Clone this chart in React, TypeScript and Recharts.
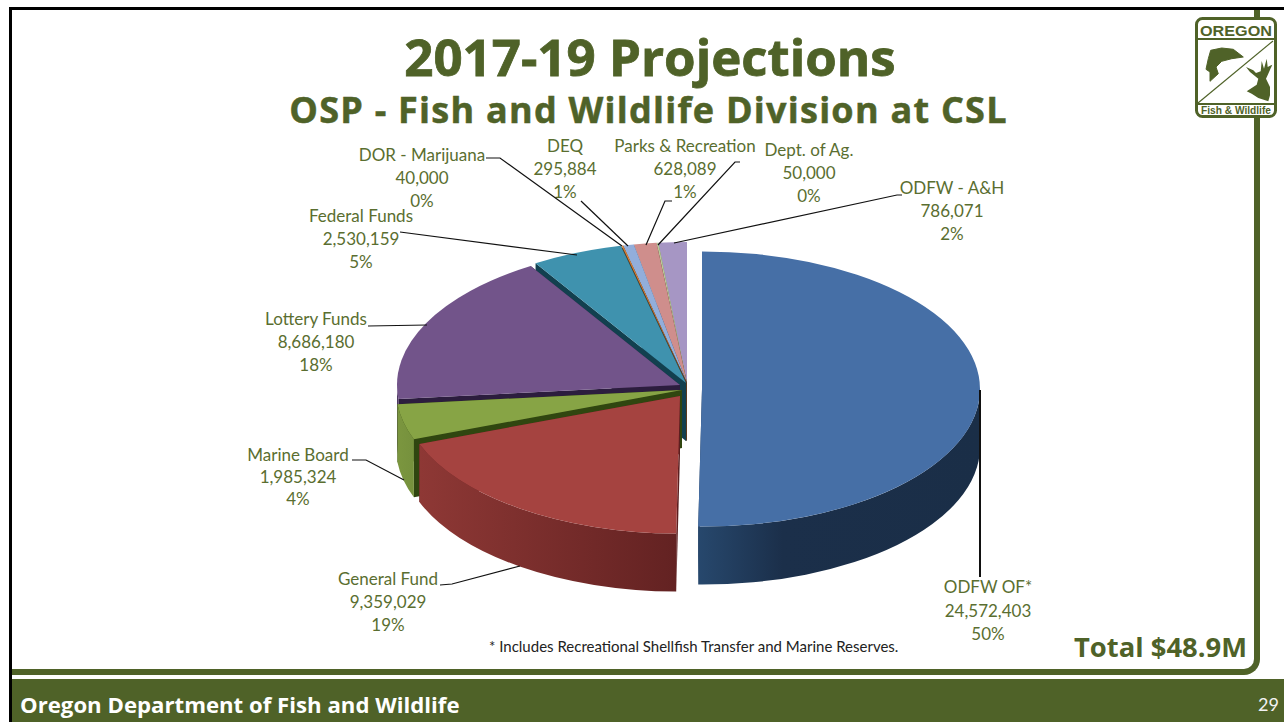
import { PieChart, Pie } from 'recharts'

// listed counter-clockwise from 12 o'clock, so back slices paint first
const names = ['ODFW - A&H', 'Dept. of Ag.', 'Parks & Recreation', 'DEQ', 'DOR - Marijuana', 'Federal Funds', 'Lottery Funds', 'Marine Board', 'General Fund', 'ODFW OF*']
const values = [786071, 50000, 628089, 295884, 40000, 2530159, 8686180, 1985324, 9359029, 24572403]
const fills = ['#a696c4', '#b9c99a', '#cf8e8c', '#92aedb', '#d9833a', '#3f92ae', '#72548a', '#87a445', '#a54340', '#466fa6']

const pieData = names.map((name, i) => ({ name, value: values[i], fill: fills[i] }))

const GREEN = '#4f6228'
const TEXT = '#5a6e30'
const CX = 683
const CY = 385
const RX = 285
const RATIO = 0.495
const DEPTH = 58

// explosion offset, cut face colour, outer wall gradient
const LOOK: Record<string, { dx: number; dy: number; rx?: number; cut: string; wall: string[] }> = {
  'ODFW - A&H': { dx: 4, dy: -2, cut: '#5f5378', wall: ['#5f5378', '#5f5378'] },
  'Dept. of Ag.': { dx: 4, dy: -2, cut: '#5f6e45', wall: ['#5f6e45', '#5f6e45'] },
  'Parks & Recreation': { dx: 4, dy: -2, cut: '#7c4a49', wall: ['#7c4a49', '#7c4a49'] },
  DEQ: { dx: 4, dy: -2, cut: '#4f6788', wall: ['#4f6788', '#4f6788'] },
  'DOR - Marijuana': { dx: 4, dy: -2, cut: '#5b3a1e', wall: ['#5b3a1e', '#5b3a1e'] },
  'Federal Funds': { dx: 3, dy: -2, cut: '#12404f', wall: ['#12404f', '#12404f'] },
  'Lottery Funds': { dx: -3, dy: 0, rx: 283, cut: '#2c1d3e', wall: ['#4e3862', '#4e3862'] },
  'Marine Board': { dx: -1, dy: 5, rx: 286, cut: '#304610', wall: ['#7b963f', '#76913d'] },
  'General Fund': { dx: -3, dy: 11, rx: 278, cut: '#5c1e1f', wall: ['#8e3835', '#632222'] },
  'ODFW OF*': { dx: 19, dy: 4, rx: 278, cut: '#1c3554', wall: ['#27486d', '#1b2f4a', '#1a2e47'] },
}

// label centre and its leader line
const LABELS: Record<string, { x: number; ys: number[]; line: string; w?: number }> = {
  'ODFW OF*': { x: 988, ys: [589, 613, 636], line: '980,390 980,577', w: 2 },
  'General Fund': { x: 388, ys: [581, 604, 627], line: '440,585 452,584 520,566' },
  'Marine Board': { x: 298, ys: [457, 479, 501], line: '352,460 366,460 404,480' },
  'Lottery Funds': { x: 316, ys: [321, 344, 367], line: '368,326 427,325' },
  'Federal Funds': { x: 361, ys: [218, 241, 264], line: '400,232 577,255' },
  'DOR - Marijuana': { x: 422, ys: [157, 180, 203], line: '486,158 500,158 622,246' },
  DEQ: { x: 565, ys: [148, 171, 194], line: '581,201 628,246' },
  'Parks & Recreation': { x: 685, ys: [148, 171, 194], line: '672,201 665,201 646,245' },
  'Dept. of Ag.': { x: 809, ys: [152, 175, 198], line: '740,162 735,162 658,245' },
  'ODFW - A&H': { x: 952, ys: [190, 213, 236], line: '902,195 897,195 674,243' },
}

function Slice3D(props: any) {
  const { name, startAngle, endAngle, fill, cx, cy, outerRadius } = props
  const look = LOOK[name]
  const rx = look.rx ?? outerRadius
  const ry = rx * RATIO
  const x0 = cx + look.dx
  const y0 = cy + look.dy
  const pt = (a: number, d = 0) => {
    const r = (a * Math.PI) / 180
    return [x0 + rx * Math.cos(r), y0 - ry * Math.sin(r) + d]
  }
  const [ax, ay] = pt(startAngle)
  const [bx, by] = pt(endAngle)
  const large = endAngle - startAngle > 180 ? 1 : 0
  const top = `M${x0},${y0} L${ax},${ay} A${rx},${ry} 0 ${large} 0 ${bx},${by} Z`
  const cut = (a: number) => {
    const [px, py] = pt(a)
    return `M${x0},${y0} L${px},${py} L${px},${py + DEPTH} L${x0},${y0 + DEPTH} Z`
  }
  const s = Math.max(startAngle, 180)
  const e = Math.min(endAngle, 360)
  const id = 'wall' + values[names.indexOf(name)]
  let wall = null
  if (e > s) {
    const [sx, sy] = pt(s)
    const [ex, ey] = pt(e)
    const stops = look.wall
    wall = (
      <>
        <defs>
          <linearGradient id={id} gradientUnits="userSpaceOnUse" x1={sx} y1={0} x2={ex} y2={0}>
            {stops.map((c, i) => (
              <stop key={i} offset={stops.length === 3 ? ['0%', '30%', '100%'][i] : i ? '100%' : '0%'} stopColor={c} />
            ))}
          </linearGradient>
        </defs>
        <path
          d={`M${sx},${sy} A${rx},${ry} 0 0 0 ${ex},${ey} L${ex},${ey + DEPTH} A${rx},${ry} 0 0 1 ${sx},${sy + DEPTH} Z`}
          fill={`url(#${id})`}
        />
      </>
    )
  }
  return (
    <g>
      <path d={cut(startAngle)} fill={look.cut} />
      <path d={cut(endAngle)} fill={look.cut} />
      {wall}
      <path d={top} fill={fill} />
    </g>
  )
}

function renderLabel(props: any) {
  const { name, value, percent } = props
  const l = LABELS[name]
  const rows = [name, value.toLocaleString('en-US'), `${Math.round(percent * 100)}%`]
  return (
    <g key={name}>
      <polyline points={l.line} fill="none" stroke="#111" strokeWidth={l.w ?? 1.2} />
      {rows.map((t, i) => (
        <text key={i} x={l.x} y={l.ys[i]} textAnchor="middle" dominantBaseline="middle" fontSize={17} fontFamily="Lato" fill={TEXT}>
          {t}
        </text>
      ))}
    </g>
  )
}

function Logo() {
  return (
    <svg width={82} height={101} viewBox="0 0 82 101" style={{ position: 'absolute', left: 1195, top: 17 }}>
      <rect x={1.5} y={1.5} width={79} height={98} rx={6} fill="#fff" stroke={GREEN} strokeWidth={3} />
      <line x1={2} y1={22} x2={80} y2={22} stroke={GREEN} strokeWidth={2} />
      <line x1={2} y1={87} x2={80} y2={87} stroke={GREEN} strokeWidth={2} />
      <line x1={3} y1={86} x2={78} y2={24} stroke={GREEN} strokeWidth={1.2} />
      <text x={5} y={18.5} textLength={72} lengthAdjust="spacingAndGlyphs" fontFamily="Liberation Sans" fontWeight={700} fontSize={15.5} fill={GREEN}>OREGON</text>
      <text x={6} y={96.5} textLength={70} lengthAdjust="spacingAndGlyphs" fontFamily="Liberation Sans" fontWeight={700} fontSize={10} fill={GREEN}>Fish &amp; Wildlife</text>
      <polygon points="48.3,40 38.3,32.3 26.7,31 15.7,33.3 13.3,41.7 11,52.3 15,55 15,64.3 23.3,56.7 21,50 26.7,44.3 36.7,41.7" fill={GREEN} stroke={GREEN} strokeLinejoin="round" />
      <polygon points="51.7,74.3 61.7,67.7 63.3,61.7 55,55 51,50 58.3,53.3 61,56 65.7,54.3 66.7,44 69,51.7 71.7,41.7 72.7,50 77.3,47.7 73.3,56.7 71,61.7 75,70 75,78.3 73.3,84.3 63.3,81 56.7,76.7" fill={GREEN} />
    </svg>
  )
}

export default function App() {
  return (
    <div style={{ position: 'absolute', left: 0, top: 0, width: 1284, height: 722, background: '#fff', overflow: 'hidden' }}>
      <div style={{ position: 'absolute', left: 12, top: 8, width: 1242, height: 661, borderRight: `6px solid ${GREEN}`, borderBottom: `6px solid ${GREEN}`, borderBottomRightRadius: 16 }} />
      <div style={{ position: 'absolute', left: 9, top: 7, width: 1275, height: 3, background: '#000' }} />
      <div style={{ position: 'absolute', left: 9, top: 7, width: 3, height: 715, background: '#000' }} />
      <div style={{ position: 'absolute', left: 12, top: 679, width: 1272, height: 43, background: GREEN }} />
      <div style={{ position: 'absolute', left: 20, top: 690, color: '#fff', font: '700 22.2px "Open Sans"', lineHeight: '30px', whiteSpace: 'nowrap' }}>Oregon Department of Fish and Wildlife</div>
      <div style={{ position: 'absolute', left: 1258, top: 692, color: '#f2f2f2', font: '18px Lato', lineHeight: '24px' }}>29</div>
      <Logo />
      <div style={{ position: 'absolute', left: 0, width: 1300, top: 26, textAlign: 'center', color: GREEN, font: '700 51px "Open Sans"', lineHeight: '60px', WebkitTextStroke: `0.8px ${GREEN}` }}>2017-19 Projections</div>
      <div style={{ position: 'absolute', left: 0, width: 1297, top: 87, textAlign: 'center', color: GREEN, font: '700 36px "Open Sans"', lineHeight: '46px', letterSpacing: '1.25px', WebkitTextStroke: `0.5px ${GREEN}` }}>OSP - Fish and Wildlife Division at CSL</div>
      <div style={{ position: 'absolute', left: 489, top: 636, color: '#222', font: '15px Lato', lineHeight: '20px', whiteSpace: 'nowrap' }}>* Includes Recreational Shellfish Transfer and Marine Reserves.</div>
      <div style={{ position: 'absolute', left: 1074, top: 628, color: GREEN, font: '700 27.4px "Open Sans"', lineHeight: '38px', whiteSpace: 'nowrap' }}>Total $48.9M</div>
      <div style={{ position: 'absolute', left: 0, top: 0 }}>
        <PieChart width={1284} height={722} margin={{ top: 0, right: 0, bottom: 0, left: 0 }}>
          <Pie
            data={pieData}
            dataKey="value"
            nameKey="name"
            cx={CX}
            cy={CY}
            outerRadius={RX}
            startAngle={90}
            endAngle={450}
            paddingAngle={0}
            stroke="none"
            shape={Slice3D}
            label={renderLabel}
            labelLine={false}
            isAnimationActive={false}
          />
        </PieChart>
      </div>
    </div>
  )
}
